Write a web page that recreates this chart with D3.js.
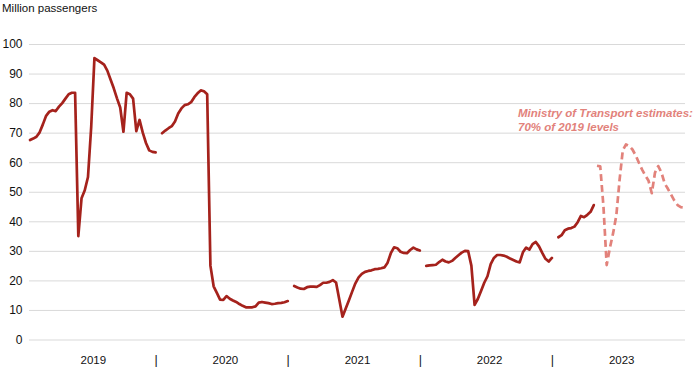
<!DOCTYPE html>
<html>
<head>
<meta charset="utf-8">
<script src="https://cdn.jsdelivr.net/npm/d3@7"></script>
<style>
  html, body { margin: 0; padding: 0; background: #fff; }
  svg { display: block; font-family: "Liberation Sans", Arial, sans-serif; }
</style>
</head>
<body>
<svg id="chart" width="700" height="373"></svg>
<script>
// ---- data (daily values, million passengers, per Spring Festival travel season) ----
const years = ["2019", "2020", "2021", "2022", "2023"];
const daysPerSlot = 41; // 40 travel days + 1 empty slot between seasons
const yTicks = [0, 10, 20, 30, 40, 50, 60, 70, 80, 90, 100];
const yAxisTitle = "Million passengers";
const annotationLines = ["Ministry of Transport estimates:", "70% of 2019 levels"];

const values2019 = [67.5, 68, 68.6, 70.1, 72.8, 75.7, 77.1, 77.6, 77.3, 78.8,
  80, 81.5, 83, 83.5, 83.5, 35, 47.8, 50.5, 55, 72,
  95.2, 94.5, 93.8, 93, 91, 88, 85, 81.6, 78.5, 70.3,
  83.5, 83, 81.5, 70.5, 74.3, 70, 66.5, 64, 63.5, 63.3];
const values2020 = [69.8, 70.7, 71.5, 72.2, 73.8, 76.5, 78.2, 79.3, 79.6, 80.3,
  82, 83.3, 84.3, 84, 83, 25, 18, 15.8, 13.5, 13.4,
  14.7, 13.8, 13.2, 12.7, 12, 11.4, 10.9, 10.9, 10.9, 11.2,
  12.5, 12.7, 12.5, 12.3, 12, 12.1, 12.3, 12.4, 12.6, 13];
const values2021 = [18.1, 17.6, 17.2, 17.1, 17.7, 17.9, 17.9, 17.8, 18.4, 19.2,
  19.2, 19.5, 20.1, 19.3, 13.5, 7.7, 10.5, 13.3, 16.2, 19,
  21, 22.2, 22.9, 23.2, 23.4, 23.8, 23.9, 24.1, 24.4, 26,
  29.2, 31.2, 30.9, 29.7, 29.3, 29.2, 30.3, 31.1, 30.5, 30.1];
const values2022 = [24.9, 25.1, 25.2, 25.3, 26.2, 27, 26.4, 26.1, 26.6, 27.6,
  28.5, 29.4, 30, 29.9, 25, 11.7, 13.7, 16.4, 19.2, 21.4,
  25.5, 27.6, 28.6, 28.6, 28.4, 28, 27.4, 26.9, 26.4, 26.1,
  29.5, 31.1, 30.4, 32.3, 33, 31.5, 29.3, 27.3, 26.4, 27.6];
const values2023 = [34.6, 35.3, 37, 37.5, 37.7, 38.2, 39.7, 41.8, 41.4, 42.2,
  43.2, 45.5];
const estimateStartDay2023 = 12;
const estimate2023 = [58.8, 58.6, 45, 25.2, 31, 36, 42, 54, 64, 66,
  65.5, 64.3, 62.3, 59.8, 57.5, 55.5, 53.7, 49.5, 56.5, 58.7,
  56.5, 52.8, 51, 49, 47, 45.5, 44.8, 44.7];

// ---- layout ----
const svg = d3.select("#chart");
const lineColor = "#a5221c";
const estColor = "#e2827b";
const gridColor = "#d9d9d9";

const actualSeries = [values2019, values2020, values2021, values2022, values2023]
  .map((vals, yi) => vals.map((v, d) => ({ slot: yi * daysPerSlot + d, v })));
const estimateSeries = estimate2023.map((v, i) => ({
  slot: 4 * daysPerSlot + estimateStartDay2023 + i, v }));

const lastSlot = d3.max(estimateSeries, d => d.slot);
const x = d3.scaleLinear().domain([0, lastSlot]).range([30, 684]);
const y = d3.scaleLinear().domain([0, 100]).range([339.5, 44]);

// gridlines
const yAxis = d3.axisLeft(y).tickValues(yTicks).tickSize(-(685 - 29)).tickPadding(7);
const gy = svg.append("g").attr("transform", "translate(29,0)").call(yAxis);
gy.select(".domain").remove();
gy.selectAll(".tick line").attr("stroke", gridColor).attr("stroke-width", 1);
gy.selectAll(".tick text")
  .attr("fill", "#111").style("font-size", "12px")
  .attr("x", -6.5);

// x axis labels: year names centred on each season, "|" separators
const xLabels = [];
years.forEach((yr, i) => {
  xLabels.push({ slot: i * daysPerSlot + 19.5, text: yr });
  if (i < years.length - 1) xLabels.push({ slot: i * daysPerSlot + 39, text: "|" });
});
const xAxis = d3.axisBottom(x)
  .tickValues(xLabels.map(d => d.slot))
  .tickFormat((d, i) => xLabels[i].text)
  .tickSize(0).tickPadding(0);
const gx = svg.append("g").attr("transform", "translate(0,356)").call(xAxis);
gx.select(".domain").remove();
gx.selectAll(".tick text").attr("fill", "#111").style("font-size", "11.5px").attr("dy", "0.71em");
gx.selectAll(".tick text").filter(function () { return this.textContent === "|"; })
  .style("font-size", "12.5px").attr("dy", "0.6em");

// title
svg.append("text").attr("x", 2).attr("y", 11.5)
  .attr("fill", "#111").style("font-size", "11.5px").text(yAxisTitle);

// lines
const line = d3.line().x(d => x(d.slot)).y(d => y(d.v));
svg.append("g").selectAll("path.actual").data(actualSeries).join("path")
  .attr("class", "actual")
  .attr("d", line)
  .attr("fill", "none").attr("stroke", lineColor)
  .attr("stroke-width", 2.7).attr("stroke-linejoin", "round").attr("stroke-linecap", "round");

svg.append("path").datum(estimateSeries)
  .attr("d", line)
  .attr("fill", "none").attr("stroke", estColor)
  .attr("stroke-width", 2.7).attr("stroke-dasharray", "7,4")
  .attr("stroke-linejoin", "round");

// annotation
const ann = svg.append("text").attr("x", 518).attr("y", 117)
  .attr("fill", estColor).style("font-size", "11.5px")
  .style("font-weight", "bold").style("font-style", "italic");
annotationLines.forEach((t, i) => {
  ann.append("tspan").attr("x", 518).attr("dy", i === 0 ? 0 : 13.5).text(t);
});
</script>
</body>
</html>
